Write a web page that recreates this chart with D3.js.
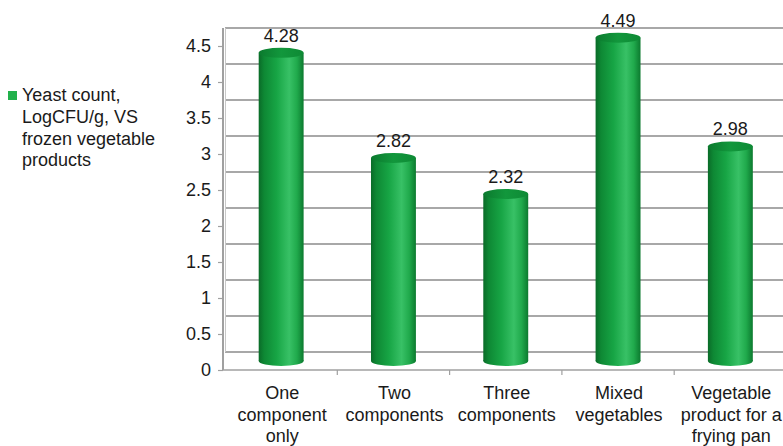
<!DOCTYPE html>
<html>
<head>
<meta charset="utf-8">
<script src="https://cdn.jsdelivr.net/npm/d3@7"></script>
<style>
  body { margin: 0; background: #fff; }
  text { font-family: "Liberation Sans", Arial, sans-serif; fill: #1a1a1a; }
</style>
</head>
<body>
<svg id="chart" width="783" height="446"></svg>
<script>
const categories = [
  ["One", "component", "only"],
  ["Two", "components"],
  ["Three", "components"],
  ["Mixed", "vegetables"],
  ["Vegetable", "product for a", "frying pan"]
];
const values = [4.28, 2.82, 2.32, 4.49, 2.98];
const yTicks = [0, 0.5, 1, 1.5, 2, 2.5, 3, 3.5, 4, 4.5];
const legendLines = ["Yeast count,", "LogCFU/g, VS", "frozen vegetable", "products"];

const svg = d3.select("#chart");
const W = 783, H = 446;
const axisX = 223, floorY = 370, depth = 18;
const fontSize = 18;

const y = d3.scaleLinear().domain([0, 4.5]).range([floorY, 46]);
const x = d3.scaleBand().domain(d3.range(categories.length))
  .range([225, 786.5]).paddingInner(0.6).paddingOuter(0.3);

const defs = svg.append("defs");
const g1 = defs.append("linearGradient").attr("id", "cyl").attr("x1", 0).attr("x2", 1).attr("y1", 0).attr("y2", 0);
[[0, "#0a6b28"], [0.12, "#0e8834"], [0.4, "#17a545"], [0.68, "#38c166"], [0.85, "#20aa4c"], [1, "#0c7a2f"]]
  .forEach(([o, c]) => g1.append("stop").attr("offset", o).attr("stop-color", c));
const g2 = defs.append("linearGradient").attr("id", "cap").attr("x1", 0).attr("x2", 1).attr("y1", 0).attr("y2", 0);
[[0, "#0b7a2e"], [0.5, "#12973c"], [1, "#0e8a35"]]
  .forEach(([o, c]) => g2.append("stop").attr("offset", o).attr("stop-color", c));

// back wall gridlines
svg.append("g").selectAll("line").data(yTicks).join("line")
  .attr("x1", 225).attr("x2", W)
  .attr("y1", d => y(d) - depth).attr("y2", d => y(d) - depth)
  .attr("stroke", "#a8a8a8").attr("stroke-width", 1.8);

// left wall back edge
svg.append("line").attr("x1", 225.5).attr("x2", 225.5)
  .attr("y1", y(4.5) - depth).attr("y2", floorY - depth)
  .attr("stroke", "#c8c8c8").attr("stroke-width", 1);

// y axis
const yAxis = d3.axisLeft(y).tickValues(yTicks).tickSize(5).tickPadding(7)
  .tickFormat(d3.format("~g"));
const ya = svg.append("g").attr("transform", `translate(${axisX},0)`).call(yAxis);
ya.select(".domain").remove();
ya.selectAll(".tick line").attr("stroke", "#a0a0a0").attr("stroke-width", 1.2);
ya.selectAll(".tick text").attr("font-size", fontSize).style("font-family", '"Liberation Sans", Arial, sans-serif').attr("fill", "#1a1a1a");
svg.append("line").attr("x1", axisX).attr("x2", axisX)
  .attr("y1", y(4.5) - depth).attr("y2", floorY)
  .attr("stroke", "#a0a0a0").attr("stroke-width", 2);

// floor front edge and category ticks
svg.append("line").attr("x1", axisX).attr("x2", W)
  .attr("y1", floorY).attr("y2", floorY)
  .attr("stroke", "#a0a0a0").attr("stroke-width", 1.6);
const step = x.step();
svg.append("g").selectAll("line").data(d3.range(1, categories.length)).join("line")
  .attr("x1", i => 225 + i * step).attr("x2", i => 225 + i * step)
  .attr("y1", floorY).attr("y2", floorY + 5)
  .attr("stroke", "#a0a0a0").attr("stroke-width", 1.2);

// cylinders
const mid = depth / 2;
const bw = x.bandwidth(), ry = 5;
const bars = svg.append("g").selectAll("g").data(values).join("g");
bars.append("rect")
  .attr("x", (d, i) => x(i)).attr("width", bw)
  .attr("y", d => y(d) - mid).attr("height", d => y(0) - y(d))
  .attr("fill", "url(#cyl)");
bars.append("ellipse")
  .attr("cx", (d, i) => x(i) + bw / 2).attr("cy", y(0) - mid)
  .attr("rx", bw / 2).attr("ry", ry).attr("fill", "url(#cyl)");
bars.append("ellipse")
  .attr("cx", (d, i) => x(i) + bw / 2).attr("cy", d => y(d) - mid)
  .attr("rx", bw / 2).attr("ry", ry).attr("fill", "url(#cap)");

// value labels
svg.append("g").selectAll("text").data(values).join("text")
  .attr("x", (d, i) => x(i) + bw / 2)
  .attr("y", d => y(d) - mid - 11)
  .attr("text-anchor", "middle").attr("font-size", fontSize)
  .text(d => d.toFixed(2));

// category labels
const cl = svg.append("g").selectAll("text").data(categories).join("text")
  .attr("text-anchor", "middle").attr("font-size", fontSize)
  .attr("x", (d, i) => x(i) + bw / 2 + 1).attr("y", 399);
cl.selectAll("tspan").data(d => d).join("tspan")
  .attr("x", function () { return d3.select(this.parentNode).attr("x"); })
  .attr("dy", (d, j) => j === 0 ? 0 : 21.5)
  .text(d => d);

// legend
svg.append("rect").attr("x", 8).attr("y", 91).attr("width", 9).attr("height", 9).attr("fill", "#22b14c");
svg.append("text").attr("x", 22).attr("y", 101).attr("font-size", fontSize)
  .selectAll("tspan").data(legendLines).join("tspan")
  .attr("x", 22).attr("dy", (d, j) => j === 0 ? 0 : 21.8).text(d => d);
</script>
</body>
</html>
